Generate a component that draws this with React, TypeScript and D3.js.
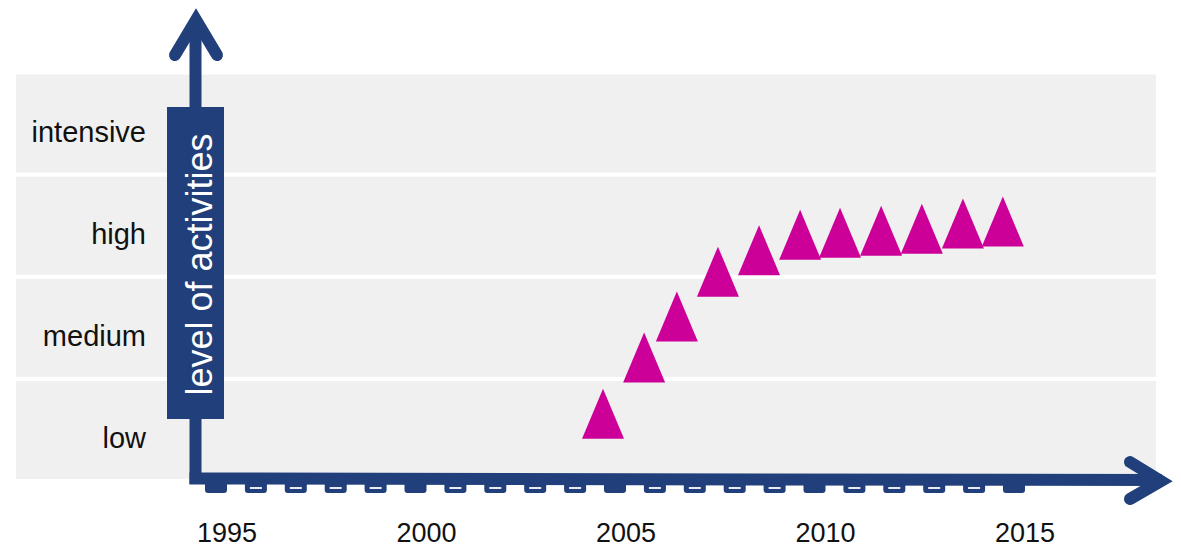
import * as d3 from "d3";
import React, {useEffect, useRef} from "react";

// level categories (bottom to top)
const levels = ["low", "medium", "high", "intensive"];
// tick years on the time axis
const years = d3.range(1995, 2016);
const labelYears = [1995, 2000, 2005, 2010, 2015];
// triangle markers: position on the time axis and level (1 = low ... 4 = intensive)
const pointX = [2004.7, 2005.73, 2006.55, 2007.58, 2008.61, 2009.64, 2010.64, 2011.67, 2012.69, 2013.72, 2014.72];
const pointLevel = [1.16, 1.71, 2.11, 2.55, 2.76, 2.91, 2.93, 2.95, 2.97, 3.02, 3.04];

const AXIS = '#213f7a';
const MARK = '#cc0099';
const FONT = '"Liberation Sans", Arial, sans-serif';

const App: React.FC = () => {
  const ref = useRef<SVGSVGElement | null>(null);

  useEffect(() => {
    const width = 1181;
    const height = 547;
    const svg = d3.select(ref.current);
    svg.selectAll('*').remove();
    svg.attr('width', width).attr('height', height);

    const xScale = d3.scaleLinear().domain([1995, 2015]).range([216, 1014]);
    const yScale = d3.scaleLinear().domain([1, 4]).range([430, 123.5]);
    const half = 49; // half band height

    // grey bands
    svg.append('g')
      .selectAll('rect')
      .data(levels)
      .enter()
      .append('rect')
      .attr('x', 16)
      .attr('width', 1156 - 16)
      .attr('y', (_, i) => yScale(i + 1) - half)
      .attr('height', half * 2)
      .attr('fill', '#f0f0f0');

    // level labels
    svg.append('g')
      .selectAll('text')
      .data(levels)
      .enter()
      .append('text')
      .attr('x', 146)
      .attr('y', (_, i) => yScale(i + 1) + 18)
      .attr('text-anchor', 'end')
      .style('font-family', FONT)
      .style('font-size', '29px')
      .attr('fill', '#111')
      .text((d) => d);

    // ticks below the time axis
    const ticks = svg.append('g')
      .selectAll('g')
      .data(years)
      .enter()
      .append('g')
      .attr('transform', (d) => `translate(${xScale(d)}, 0)`);
    ticks.append('path')
      .attr('d', 'M-11,478 L11,478 L11,490 Q11,493 8,493 L-8,493 Q-11,493 -11,490 Z')
      .attr('fill', AXIS);
    ticks.filter((d) => d % 5 !== 0)
      .append('rect')
      .attr('x', -6)
      .attr('y', 487)
      .attr('width', 12)
      .attr('height', 2)
      .attr('fill', '#e8ecf2');

    // year labels
    svg.append('g')
      .selectAll('text')
      .data(labelYears)
      .enter()
      .append('text')
      .attr('x', (d) => xScale(d) + 11)
      .attr('y', 542)
      .attr('text-anchor', 'middle')
      .style('font-family', FONT)
      .style('font-size', '27px')
      .attr('fill', '#111')
      .text((d) => d);

    // axes with arrows
    svg.append('line')
      .attr('x1', 195.5).attr('y1', 20)
      .attr('x2', 195.5).attr('y2', 484)
      .attr('stroke', AXIS).attr('stroke-width', 12);
    svg.append('line')
      .attr('x1', 189.5).attr('y1', 478.5)
      .attr('x2', 1162).attr('y2', 480)
      .attr('stroke', AXIS).attr('stroke-width', 12);
    svg.append('polyline')
      .attr('points', '175,55 196,20 217,55')
      .attr('fill', 'none').attr('stroke', AXIS).attr('stroke-width', 12)
      .attr('stroke-linecap', 'round').attr('stroke-linejoin', 'miter');
    svg.append('polyline')
      .attr('points', '1130,462 1161,481 1130,499')
      .attr('fill', 'none').attr('stroke', AXIS).attr('stroke-width', 12)
      .attr('stroke-linecap', 'round').attr('stroke-linejoin', 'miter');

    // y axis title box
    svg.append('rect')
      .attr('x', 167).attr('y', 107)
      .attr('width', 57).attr('height', 312)
      .attr('fill', AXIS);
    svg.append('text')
      .attr('transform', 'translate(212, 264.5) rotate(-90)')
      .attr('text-anchor', 'middle')
      .style('font-family', FONT)
      .style('font-size', '36px')
      .attr('fill', '#fff')
      .text('level of activities');

    // triangles
    const tw = 21;
    const th = 25;
    svg.append('g')
      .selectAll('path')
      .data(pointX.map((x, i) => ({x, v: pointLevel[i]})))
      .enter()
      .append('path')
      .attr('d', (d) => {
        const cx = xScale(d.x);
        const cy = yScale(d.v);
        return `M${cx},${cy - th} L${cx + tw},${cy + th} L${cx - tw},${cy + th} Z`;
      })
      .attr('fill', MARK);

    return () => {
      svg.selectAll('*').remove();
    };
  }, []);

  return (
    <div style={{position: 'absolute', left: 0, top: 0}}>
      <svg ref={ref} style={{display: 'block'}}/>
    </div>
  );
};

export default App;
